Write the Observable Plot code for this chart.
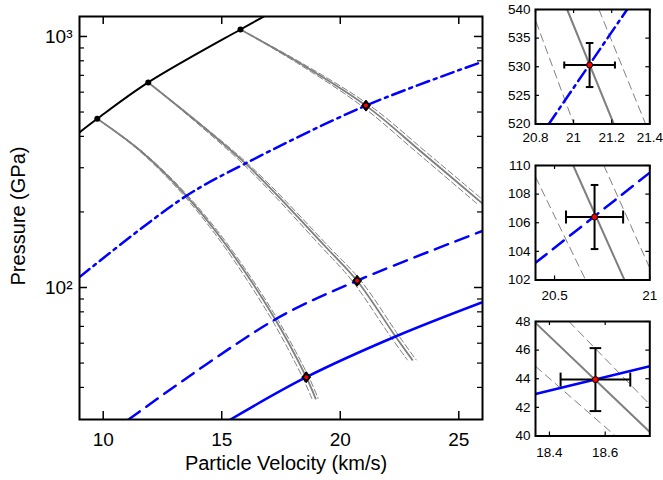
<!DOCTYPE html>
<html>
<head>
<meta charset="utf-8">
<script src="https://cdn.jsdelivr.net/npm/d3@7"></script>
<script src="https://cdn.jsdelivr.net/npm/@observablehq/plot@0.6"></script>
<style>
  body { margin: 0; background: #fff; }
  #chart { position: relative; width: 663px; height: 480px; }
  #chart svg { position: absolute; overflow: visible; }
</style>
</head>
<body>
<div id="chart"></div>
<script>
// ---------------- DATA ----------------
// Main panel
const xDomain = [9, 26];
const yDomain = [29.8, 1201];
const xTicks = [10, 15, 20, 25];
const yMajorTicks = [100, 1000];
const yTickLabels = ["10²", "10³"];
const yMinorTicks = [40, 50, 60, 70, 80, 90, 200, 300, 400, 500, 600, 700, 800, 900];
const xLabel = "Particle Velocity (km/s)";
const yLabel = "Pressure (GPa)";

// Standard Hugoniot (black) and impact states (black dots)
const standardHugoniot = [[9.0, 415], [9.75, 470], [11.9, 656], [15.79, 1066], [16.77, 1200]];
const impactStates = [[9.75, 470], [11.9, 656], [15.79, 1066]];

// Release curves (gray): centre and the two uncertainty bounds
const releaseA = [[9.75, 470], [11.57, 350.5], [13.39, 238.2], [15.08, 152.2], [17.19, 76.5], [18.565, 43.94], [18.96, 36.1]];
const releaseALow = [[9.75, 470], [11.52, 350.5], [13.30, 238.2], [14.96, 152.2], [17.04, 76.5], [18.405, 43.94], [18.80, 36.1]];
const releaseAHigh = [[9.75, 470], [11.61, 350.5], [13.46, 238.2], [15.17, 152.2], [17.29, 76.5], [18.675, 43.94], [19.07, 36.1]];
const releaseB = [[11.9, 656], [16.0, 312], [19.42, 144], [20.71, 106.4], [22.33, 63.8], [23.04, 51.5]];
const releaseBLow = [[11.9, 656], [15.88, 312], [19.24, 144], [20.50, 106.4], [22.12, 63.8], [22.83, 51.5]];
const releaseBHigh = [[11.9, 656], [16.09, 312], [19.56, 144], [20.87, 106.4], [22.49, 63.8], [23.20, 51.5]];
const releaseC = [[15.79, 1066], [18.32, 780], [21.084, 530.3], [23.5, 342], [26.0, 216]];
const releaseCLow = [[15.79, 1066], [18.22, 780], [20.884, 530.3], [23.28, 342], [25.76, 216]];
const releaseCHigh = [[15.79, 1066], [18.41, 780], [21.254, 530.3], [23.69, 342], [26.2, 216]];

// Sample Hugoniots (blue)
const blueSolid = [[15.37, 29.8], [18.565, 43.94], [22.33, 63.8], [26.0, 87.4]];
const blueDashed = [[11.07, 29.8], [17.19, 74], [20.71, 106.4], [26.0, 168]];
const blueDashDot = [[9.0, 110], [13.39, 228], [16.0, 312], [21.084, 530.3], [26.0, 793]];

// Measured states (red points) with uncertainties
const measured = [[18.565, 43.94], [20.71, 106.4], [21.084, 530.3]];
const measuredUpErr = [0.125, 0.15, 0.133];
const measuredPErr = [2.2, 2.24, 3.85];

// Insets (top to bottom)
const inset1XDomain = [20.8, 21.4], inset1YDomain = [520, 540];
const inset1XTicks = [20.8, 21, 21.2, 21.4], inset1YTicks = [520, 525, 530, 535, 540];
const inset1Release = [[20.966, 540], [21.211, 520]];
const inset1ReleaseLow = [[20.779, 540], [21.001, 520]];
const inset1ReleaseHigh = [[21.133, 540], [21.378, 520]];
const inset1Blue = [[20.87, 520], [21.281, 540]];

const inset2XDomain = [20.4, 21.0], inset2YDomain = [102, 110];
const inset2XTicks = [20.5, 21], inset2YTicks = [102, 104, 106, 108, 110];
const inset2Release = [[20.598, 110], [20.867, 102]];
const inset2ReleaseLow = [[20.371, 110], [20.663, 102]];
const inset2ReleaseHigh = [[20.759, 110], [21.028, 102]];
const inset2Blue = [[20.4, 103.2], [21.0, 109.5]];

const inset3XDomain = [18.35, 18.76], inset3YDomain = [40, 48];
const inset3XTicks = [18.4, 18.6], inset3YTicks = [40, 42, 44, 46, 48];
const inset3Release = [[18.35, 47.9], [18.76, 40.28]];
const inset3ReleaseLow = [[18.35, 44.87], [18.637, 40]];
const inset3ReleaseHigh = [[18.47, 48], [18.76, 42.2]];
const inset3Blue = [[18.35, 42.94], [18.76, 44.87]];

// ---------------- DRAWING ----------------
const FONT = '"Liberation Sans", Arial, Helvetica, sans-serif';
const BLUE = "#0000ff";
const GRAY = "#7f7f7f";
const X = d => d[0], Y = d => d[1];
const container = document.getElementById("chart");

const blueStyles = {
  solid: {},
  dashed: {strokeDasharray: "14,8"},
  dashdot: {strokeDasharray: "13,5,3,5"}
};

// custom symbols
const diamondSym = {draw(ctx, size) {
  const r = Math.sqrt(size / Math.PI), w = r * 0.8;
  ctx.moveTo(0, -r); ctx.lineTo(w, 0); ctx.lineTo(0, r); ctx.lineTo(-w, 0); ctx.closePath();
}};
const capVert = {draw(ctx, size) {
  const r = Math.sqrt(size / Math.PI);
  ctx.moveTo(0, -r); ctx.lineTo(0, r);
}};
const capHorz = {draw(ctx, size) {
  const r = Math.sqrt(size / Math.PI);
  ctx.moveTo(-r, 0); ctx.lineTo(r, 0);
}};

function place(svg, left, top) {
  svg.style.left = left + "px";
  svg.style.top = top + "px";
  container.appendChild(svg);
}

// ---- main panel ----
{
  const mL = 79, mT = 16, fW = 403, fH = 403;
  const W = mL + fW + 8, H = mT + fH + 61;
  const lo = {x: X, y: Y, curve: "catmull-rom", clip: true};
  const releases = [
    [releaseA, releaseALow, releaseAHigh],
    [releaseB, releaseBLow, releaseBHigh],
    [releaseC, releaseCLow, releaseCHigh]
  ];
  const releaseMarks = releases.flatMap(([c, l, h]) => [
    Plot.line(l, {...lo, stroke: GRAY, strokeWidth: 1, strokeDasharray: "6,3"}),
    Plot.line(h, {...lo, stroke: GRAY, strokeWidth: 1, strokeDasharray: "6,3"}),
    Plot.line(c, {...lo, stroke: GRAY, strokeWidth: 1.8})
  ]);
  const main = Plot.plot({
    width: W, height: H,
    marginLeft: mL, marginTop: mT, marginRight: 8, marginBottom: 61,
    x: {domain: xDomain},
    y: {type: "log", domain: yDomain},
    style: {fontFamily: FONT, fontSize: "19px", background: "transparent", color: "black"},
    marks: [
      ...releaseMarks,
      Plot.line(blueSolid, {...lo, stroke: BLUE, strokeWidth: 2.5, ...blueStyles.solid}),
      Plot.line(blueDashed, {...lo, stroke: BLUE, strokeWidth: 2.5, ...blueStyles.dashed}),
      Plot.line(blueDashDot, {...lo, stroke: BLUE, strokeWidth: 2.5, ...blueStyles.dashdot}),
      Plot.line(standardHugoniot, {...lo, stroke: "black", strokeWidth: 2}),
      Plot.dot(impactStates, {x: X, y: Y, r: 3, fill: "black"}),
      Plot.dot(measured, {x: X, y: Y, symbol: diamondSym, r: 5.5, fill: "black", stroke: "black", strokeWidth: 1}),
      Plot.dot(measured, {x: X, y: Y, r: 2, fill: "red"}),
      // inward ticks
      Plot.ruleX(xTicks, {x: d => d, insetTop: fH - 8, stroke: "black", strokeWidth: 1.5}),
      Plot.ruleX(xTicks, {x: d => d, insetBottom: fH - 8, stroke: "black", strokeWidth: 1.5}),
      Plot.ruleY(yMajorTicks, {y: d => d, insetRight: fW - 8, stroke: "black", strokeWidth: 1.5}),
      Plot.ruleY(yMajorTicks, {y: d => d, insetLeft: fW - 8, stroke: "black", strokeWidth: 1.5}),
      Plot.ruleY(yMinorTicks, {y: d => d, insetRight: fW - 5, stroke: "black", strokeWidth: 1.2}),
      Plot.ruleY(yMinorTicks, {y: d => d, insetLeft: fW - 5, stroke: "black", strokeWidth: 1.2}),
      Plot.axisX(xTicks, {tickSize: 0, tickPadding: 13, label: null, fontSize: 19}),
      Plot.axisY(yMajorTicks, {tickSize: 0, tickPadding: 7, label: null, fontSize: 19,
        tickFormat: d => yTickLabels[yMajorTicks.indexOf(d)]}),
      Plot.frame({stroke: "black", strokeWidth: 2}),
      Plot.text([yLabel], {text: d => d, frameAnchor: "left", dx: -61, dy: -2, rotate: -90,
        textAnchor: "middle", lineAnchor: "middle", fontSize: 20}),
      Plot.text([xLabel], {text: d => d, frameAnchor: "bottom", dx: 5, dy: 44,
        textAnchor: "middle", lineAnchor: "middle", fontSize: 20})
    ]
  });
  place(main, 0, 0);
}

// ---- insets ----
const insets = [
  {xd: inset1XDomain, yd: inset1YDomain, xt: inset1XTicks, yt: inset1YTicks,
   c: inset1Release, l: inset1ReleaseLow, h: inset1ReleaseHigh, b: inset1Blue, style: "dashdot",
   idx: 2, top: 9, pad: 8, hcap: 3.5, vcap: 3.8},
  {xd: inset2XDomain, yd: inset2YDomain, xt: inset2XTicks, yt: inset2YTicks,
   c: inset2Release, l: inset2ReleaseLow, h: inset2ReleaseHigh, b: inset2Blue, style: "dashed",
   idx: 1, top: 164.5, pad: 10, hcap: 6.5, vcap: 3.8},
  {xd: inset3XDomain, yd: inset3YDomain, xt: inset3XTicks, yt: inset3YTicks,
   c: inset3Release, l: inset3ReleaseLow, h: inset3ReleaseHigh, b: inset3Blue, style: "solid",
   idx: 0, top: 320.5, pad: 11, hcap: 7, vcap: 5.8}
];

for (const s of insets) {
  const mL = 40, mT = 9, fW = 114.3, fH = 114.5;
  const W = mL + fW + 9, H = mT + fH + 32;
  const pt = measured[s.idx];
  const ue = measuredUpErr[s.idx], pe = measuredPErr[s.idx];
  const row = [{u: pt[0], p: pt[1], u1: pt[0] - ue, u2: pt[0] + ue, p1: pt[1] - pe, p2: pt[1] + pe}];
  const lo = {x: X, y: Y, clip: true};
  const fmt = d => String(d);
  const svg = Plot.plot({
    width: W, height: H,
    marginLeft: mL, marginTop: mT, marginRight: 9, marginBottom: 32,
    x: {domain: s.xd},
    y: {domain: s.yd},
    style: {fontFamily: FONT, fontSize: "13.5px", background: "transparent", color: "black"},
    marks: [
      Plot.line(s.l, {...lo, stroke: GRAY, strokeWidth: 1, strokeDasharray: "8,5"}),
      Plot.line(s.h, {...lo, stroke: GRAY, strokeWidth: 1, strokeDasharray: "8,5"}),
      Plot.line(s.c, {...lo, stroke: GRAY, strokeWidth: 2}),
      Plot.line(s.b, {...lo, stroke: BLUE, strokeWidth: 2.5, ...blueStyles[s.style]}),
      Plot.ruleY(row, {y: "p", x1: "u1", x2: "u2", stroke: "black", strokeWidth: 2}),
      Plot.ruleX(row, {x: "u", y1: "p1", y2: "p2", stroke: "black", strokeWidth: 2}),
      Plot.dot(row, {x: "u1", y: "p", symbol: capVert, r: s.hcap, fill: "none", stroke: "black", strokeWidth: 2}),
      Plot.dot(row, {x: "u2", y: "p", symbol: capVert, r: s.hcap, fill: "none", stroke: "black", strokeWidth: 2}),
      Plot.dot(row, {x: "u", y: "p1", symbol: capHorz, r: s.vcap, fill: "none", stroke: "black", strokeWidth: 2}),
      Plot.dot(row, {x: "u", y: "p2", symbol: capHorz, r: s.vcap, fill: "none", stroke: "black", strokeWidth: 2}),
      Plot.dot(row, {x: "u", y: "p", r: 3, fill: "red", stroke: "black", strokeWidth: 1}),
      Plot.ruleX(s.xt, {x: d => d, insetTop: fH - 4, stroke: "black", strokeWidth: 1.2}),
      Plot.ruleX(s.xt, {x: d => d, insetBottom: fH - 4, stroke: "black", strokeWidth: 1.2}),
      Plot.ruleY(s.yt, {y: d => d, insetRight: fW - 4, stroke: "black", strokeWidth: 1.2}),
      Plot.ruleY(s.yt, {y: d => d, insetLeft: fW - 4, stroke: "black", strokeWidth: 1.2}),
      Plot.axisX(s.xt, {tickSize: 0, tickPadding: s.pad, label: null, tickFormat: fmt}),
      Plot.axisY(s.yt, {tickSize: 0, tickPadding: 5, label: null, tickFormat: fmt}),
      Plot.frame({stroke: "black", strokeWidth: 2})
    ]
  });
  place(svg, 535 - mL, s.top - mT);
}
</script>
</body>
</html>
